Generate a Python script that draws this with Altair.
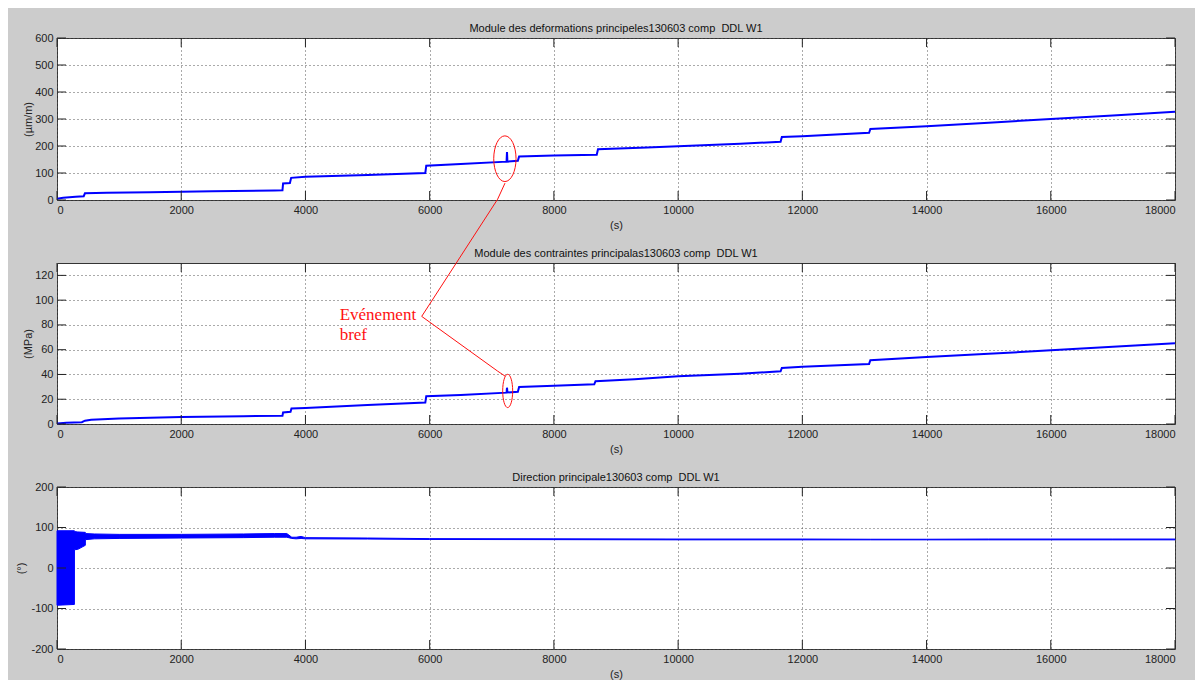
import altair as alt
import pandas as pd

# ---------------- data ----------------
X_TICKS = [0, 2000, 4000, 6000, 8000, 10000, 12000, 14000, 16000, 18000]

# Panel 1 : Module des deformations principales (µm/m)
t1 = [0, 100, 300, 430, 450, 800, 1500, 2500, 3500, 3630, 3640, 3750, 3770, 4000,
      5000, 5930, 5945, 6500, 7238, 7245, 7252, 7420, 7440, 8000, 8690, 8710, 9500,
      10000, 11000, 11650, 11670, 12000, 13075, 13095, 14000, 15000, 16000, 17000, 18000]
v1 = [5, 8, 12, 14, 25, 27, 29, 32, 35, 36, 61, 63, 82, 86,
      93, 100, 127, 133, 142, 178, 142, 145, 161, 165, 168, 188, 194,
      199, 208, 216, 233, 236, 249, 263, 273, 286, 300, 313, 327]
Y1_TICKS = [0, 100, 200, 300, 400, 500, 600]

# Panel 2 : Module des contraintes principales (MPa)
t2 = [0, 150, 400, 450, 550, 1000, 2000, 3000, 3630, 3640, 3760, 3775, 4000, 5000,
      5930, 5945, 6500, 7238, 7245, 7252, 7420, 7440, 8000, 8650, 8670, 9300, 10000,
      11000, 11650, 11670, 12000, 13075, 13095, 14000, 15000, 16000, 17000, 18000]
v2 = [0.5, 1, 1.5, 2.7, 3.5, 4.5, 5.6, 6.3, 6.7, 9.3, 9.8, 12.5, 13.0, 15.3,
      17.3, 22.5, 23.5, 25.3, 29.3, 25.4, 26.0, 29.8, 30.8, 32.0, 34.6, 36.2, 38.5,
      40.6, 42.6, 45.3, 46.2, 48.5, 51.5, 54.0, 56.7, 59.5, 62.3, 65.2]
Y2_TICKS = [0, 20, 40, 60, 80, 100, 120]

# Panel 3 : Direction principale (°) -- envelope of the oscillating signal
t3 = [0, 280, 281, 335, 456, 457, 600, 1000, 2000, 3000, 3500, 3700, 3780, 3850,
      3930, 4000, 5000, 6000, 8000, 10000, 12000, 13100, 14000, 15000, 16000, 17000, 18000]
hi3 = [92, 92, 90, 89, 88, 85, 84, 83, 83, 84, 85, 85, 76, 76,
       78, 75, 74, 72.5, 72, 71.5, 71.5, 71, 71, 71.5, 71.5, 71.5, 71.5]
lo3 = [-92, -90, 45, 46, 56, 70, 72, 73, 74, 75, 76, 76, 73, 72,
       73, 72, 71.5, 70.5, 70, 69.5, 69.5, 69.5, 69.5, 69.5, 69.5, 69.5, 69.5]
Y3_TICKS = [-200, -100, 0, 100, 200]

# Annotation "Evénement bref"
ell1_t, ell1_v = [7211], [152.9]          # ellipse in panel 1
ell2_t, ell2_v = [7256], [26.7]           # ellipse in panel 2
ann_t = [7213, 7094, 5872, 7094, 7213]    # connector, panel 2 coordinates
ann_v = [194.5, 181.5, 86.9, 42.7, 38.7]
txt_t = [4551, 4551]
txt_v = [83.6, 68.0]
txt_s = ["Evénement", "bref"]

# ---------------- styling ----------------
BLUE = "#0000ff"
RED = "#ff1010"
BG = "#cccccc"
FONT = "Liberation Sans"
W = 1118
TICKC = "#222222"


def xenc():
    return alt.X("t:Q", scale=alt.Scale(domain=[0, 18000], nice=False, zero=False),
                 axis=alt.Axis(values=X_TICKS, labelExpr="'' + datum.value", title="(s)",
                               grid=True, gridDash=[1, 3], gridColor="#555", gridOpacity=1,
                               domain=False, ticks=False, tickSize=0,
                               labelPadding=4, titlePadding=4))


def yenc(field, ydom, yticks, title, tpad):
    return alt.Y(f"{field}:Q", scale=alt.Scale(domain=ydom, nice=False, zero=False),
                 axis=alt.Axis(values=yticks, labelExpr="'' + datum.value", title=title,
                               grid=True, gridDash=[1, 3], gridColor="#555", gridOpacity=1,
                               domain=False, ticks=False, tickSize=0,
                               labelPadding=4, titlePadding=tpad))


def frame(yenc_fn, yticks, h):
    xt = pd.DataFrame({"t": X_TICKS})
    yt = pd.DataFrame({"v": yticks})
    top = alt.Chart(xt).mark_rule(color=TICKC, strokeWidth=1).encode(
        x=xenc(), y=alt.value(0), y2=alt.value(9))
    bot = alt.Chart(xt).mark_rule(color=TICKC, strokeWidth=1).encode(
        x=xenc(), y=alt.value(h), y2=alt.value(h - 9))
    left = alt.Chart(yt).mark_rule(color=TICKC, strokeWidth=1).encode(
        y=yenc_fn("v"), x=alt.value(0), x2=alt.value(9))
    right = alt.Chart(yt).mark_rule(color=TICKC, strokeWidth=1).encode(
        y=yenc_fn("v"), x=alt.value(W), x2=alt.value(W - 9))
    return [top, bot, left, right]


def ttl(text, dy=0):
    return alt.TitleParams(text=text, fontSize=11, fontWeight="normal", font=FONT,
                           color="#111", offset=-2, dy=dy, anchor="middle", frame="group")


# Panel 1
y1 = lambda f: yenc(f, [0, 600], Y1_TICKS, "(µm/m)", 1)
d1 = pd.DataFrame({"t": t1, "v": v1})
line1 = alt.Chart(d1).mark_line(color=BLUE, strokeWidth=2).encode(x=xenc(), y=y1("v"))
ell_shape1 = "M 0 -1 A 0.488 1 0 1 1 0 1 A 0.488 1 0 1 1 0 -1 Z"
e1 = alt.Chart(pd.DataFrame({"t": ell1_t, "v": ell1_v})).mark_point(
    shape=ell_shape1, size=2088, filled=False, color=RED, strokeWidth=1, opacity=1,
    clip=False).encode(x=xenc(), y=y1("v"))
p1 = alt.layer(line1, e1, *frame(y1, Y1_TICKS, 162)).properties(
    width=W, height=162,
    title=ttl("Module des deformations principeles130603 comp \u00a0DDL W1"))

# Panel 2
y2 = lambda f: yenc(f, [0, 130], Y2_TICKS, "(MPa)", 1)
d2 = pd.DataFrame({"t": t2, "v": v2})
line2 = alt.Chart(d2).mark_line(color=BLUE, strokeWidth=2).encode(x=xenc(), y=y2("v"))
ell_shape2 = "M 0 -1 A 0.30 1 0 1 1 0 1 A 0.30 1 0 1 1 0 -1 Z"
e2 = alt.Chart(pd.DataFrame({"t": ell2_t, "v": ell2_v})).mark_point(
    shape=ell_shape2, size=1109, filled=False, color=RED, strokeWidth=1, opacity=1,
    clip=False).encode(x=xenc(), y=y2("v"))
conn = alt.Chart(pd.DataFrame({"t": ann_t, "v": ann_v, "o": list(range(len(ann_t)))})).mark_line(
    color=RED, strokeWidth=1, clip=False).encode(x=xenc(), y=y2("v"), order="o:O")
txt = alt.Chart(pd.DataFrame({"t": txt_t, "v": txt_v, "s": txt_s})).mark_text(
    font="Liberation Serif", fontSize=17, color=RED, align="left", baseline="alphabetic",
    clip=False).encode(x=xenc(), y=y2("v"), text="s:N")
p2 = alt.layer(line2, e2, conn, txt, *frame(y2, Y2_TICKS, 161)).properties(
    width=W, height=161,
    title=ttl("Module des contraintes principalas130603 comp \u00a0DDL W1", dy=76))

# Panel 3
y3 = lambda f: yenc(f, [-200, 200], Y3_TICKS, "(°)", 4)
d3 = pd.DataFrame({"t": t3, "hi": hi3, "lo": lo3})
band = alt.Chart(d3).mark_area(color=BLUE, opacity=1, stroke=BLUE, strokeWidth=1).encode(
    x=xenc(), y=y3("hi"), y2="lo:Q")
p3 = alt.layer(band, *frame(y3, Y3_TICKS, 162)).properties(
    width=W, height=162,
    title=ttl("Direction principale130603 comp \u00a0DDL W1"))

chart = alt.vconcat(p1, p2, p3, spacing=63, bounds="flush").properties(
    padding={"left": 7, "top": 14, "right": 15, "bottom": 0},
    background=BG,
).configure_view(fill="white", stroke="#333", strokeWidth=1).configure_axis(
    labelFont=FONT, labelFontSize=11, labelColor="#222",
    titleFont=FONT, titleFontSize=11, titleFontWeight="normal", titleColor="#222",
)

chart.save("out.html", embed_options={"renderer": "svg", "actions": False})
